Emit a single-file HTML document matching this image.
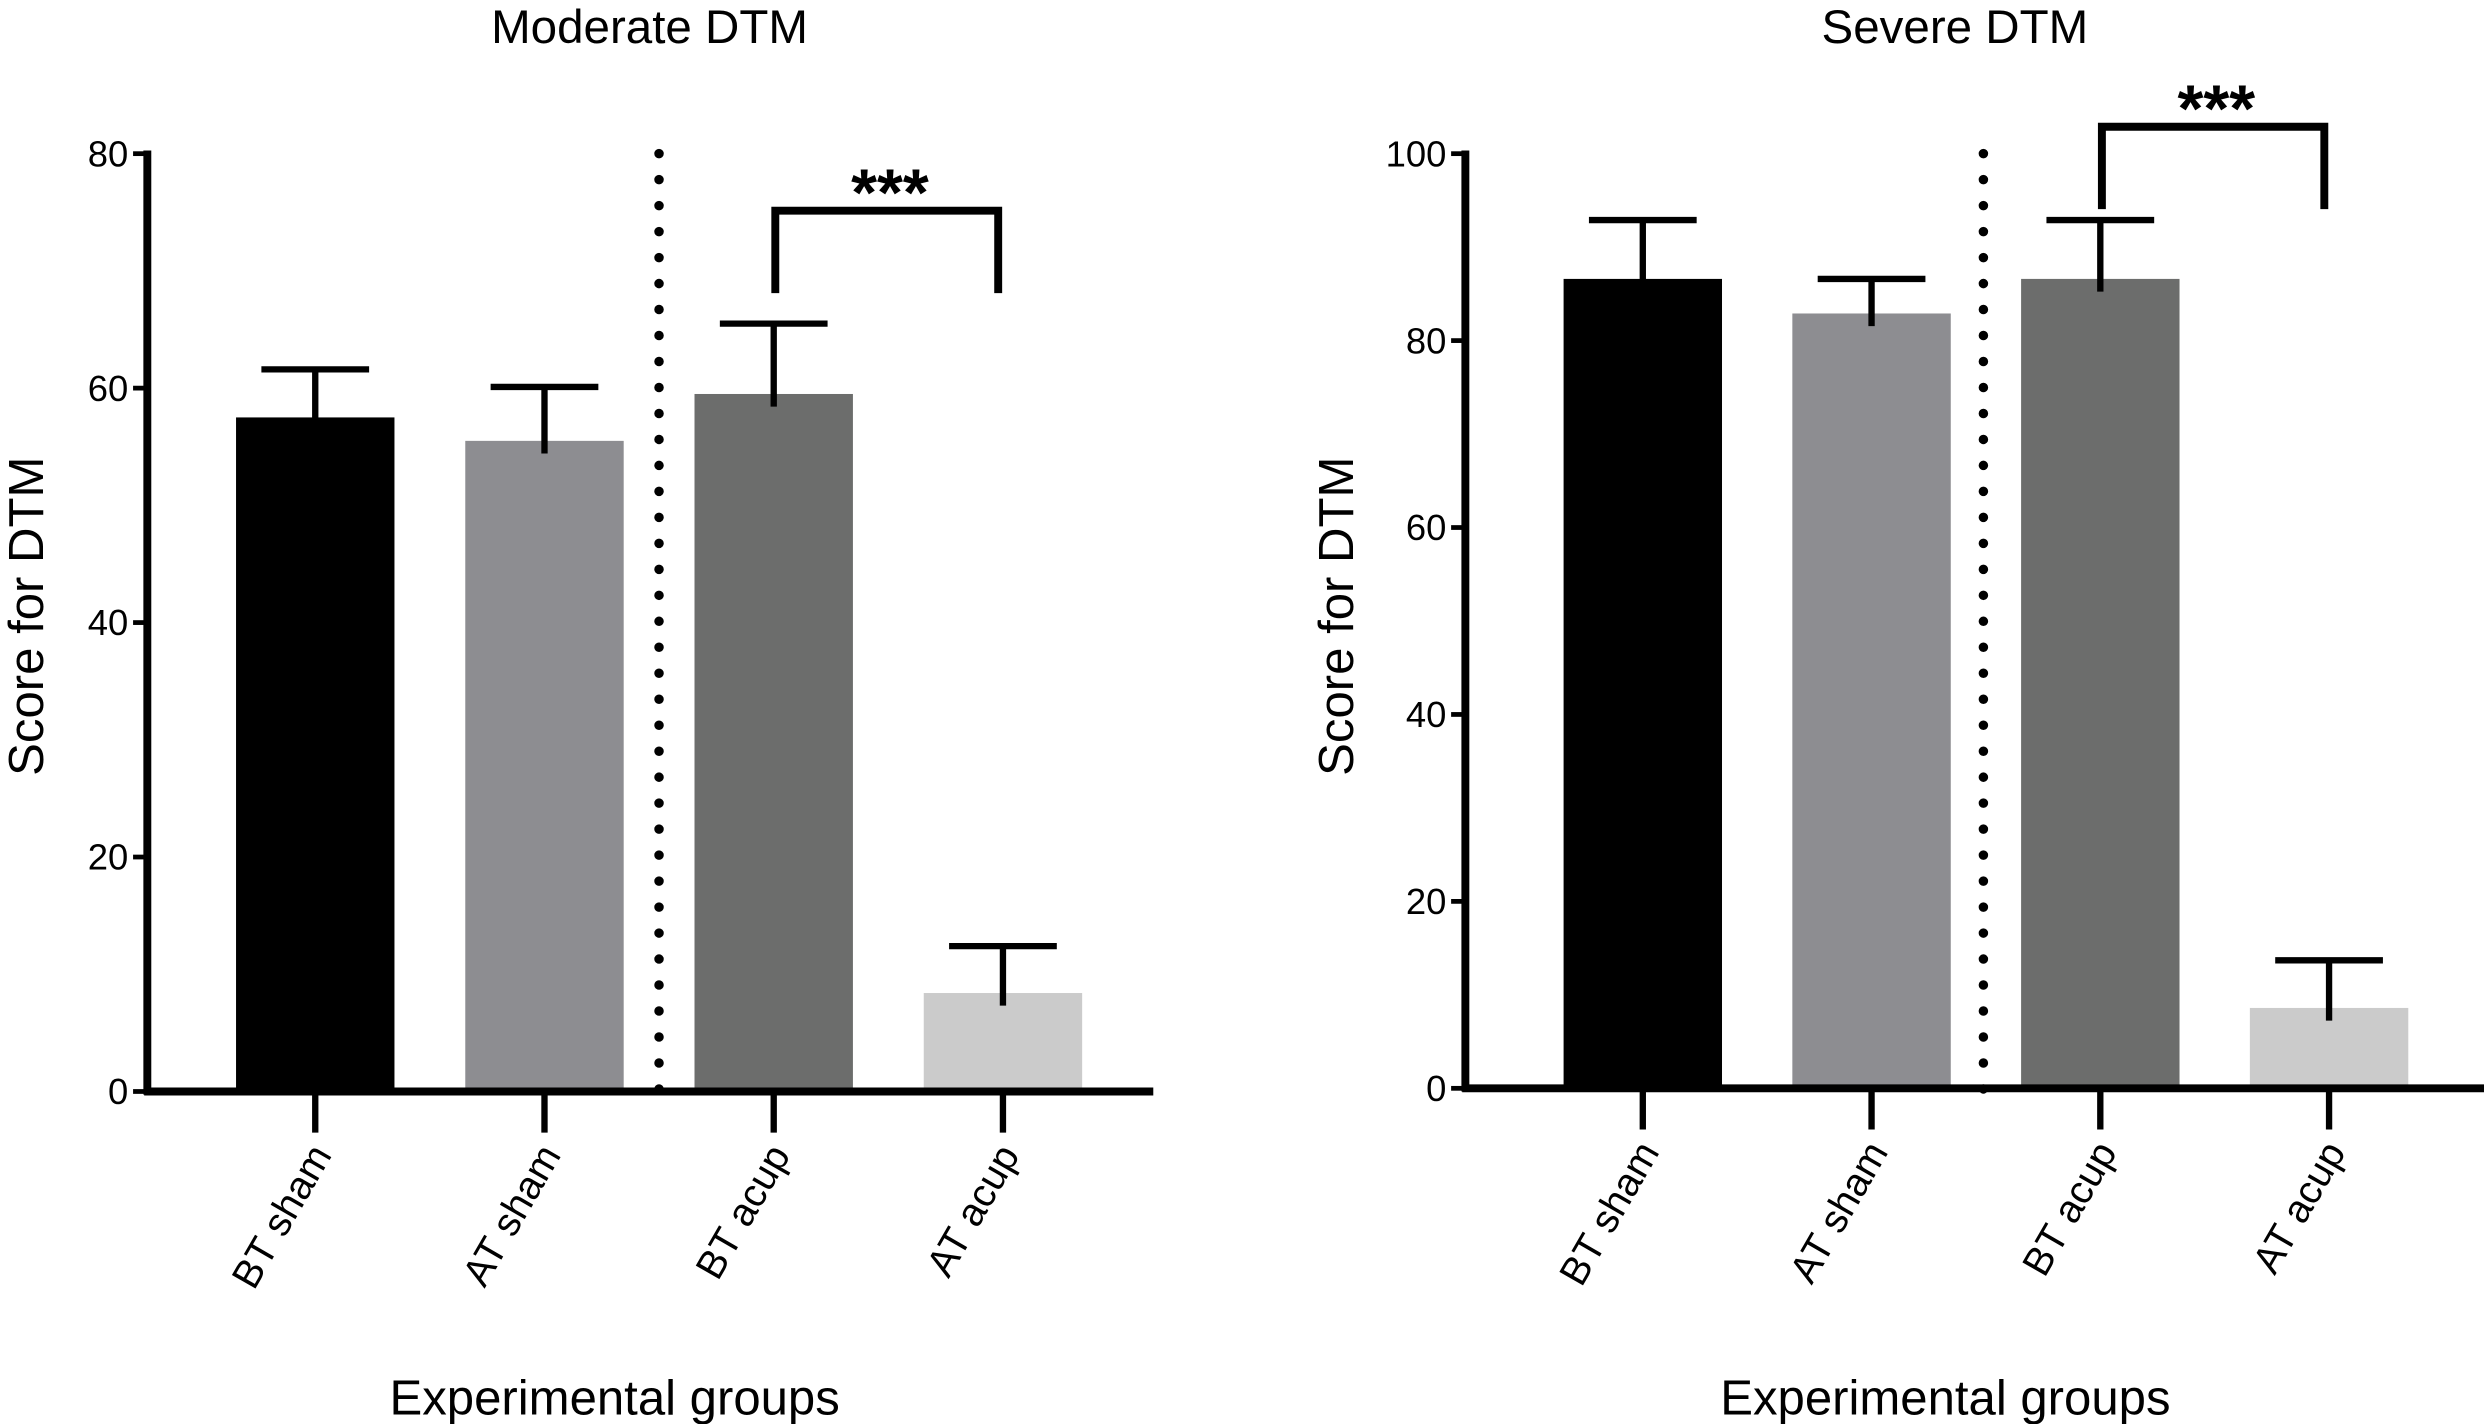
<!DOCTYPE html>
<html><head><meta charset="utf-8"><style>
html,body{margin:0;padding:0;background:#fff}
svg{display:block}
text{font-family:"Liberation Sans",sans-serif;fill:#000}
</style></head><body>
<svg id="fig" width="2484" height="1424" viewBox="0 0 1568 898.9" preserveAspectRatio="none" xmlns="http://www.w3.org/2000/svg"></svg>
<script>
const categories = ["BT sham","AT sham","BT acup","AT acup"];
const colors = ["#000000","#8d8d91","#6c6d6c","#cbcbcb"];
const moderateValues = [57.5, 55.5, 59.5, 8.4];
const moderateErrors = [4.1, 4.6, 6.0, 4.0];
const moderateTicks = [0,20,40,60,80];
const severeValues = [86.6, 82.9, 86.6, 8.6];
const severeErrors = [6.3, 3.7, 6.3, 5.1];
const severeTicks = [0,20,40,60,80,100];

const NS="http://www.w3.org/2000/svg";
const svg=document.getElementById('fig');
function mk(tag,attrs,parent){const e=document.createElementNS(NS,tag);for(const k in attrs)e.setAttribute(k,attrs[k]);(parent||svg).appendChild(e);return e;}

function panel(cfg){
  const g=mk('g',{});
  
  
  const y=v=>cfg.y0-(v/cfg.max)*(cfg.y0-cfg.yTop);
  const x=i=>cfg.x0c+i*cfg.step;
  const t=mk('text',{x:cfg.titleX,y:27,'font-size':30,'text-anchor':'middle'},g);t.textContent=cfg.title;
  
  
  cfg.values.forEach((v,i)=>{
    const r=mk('rect',{x:x(i)-50,y:y(v),width:100,height:cfg.y0-y(v),fill:colors[i]},g);
    
    
    const top=y(v+cfg.errors[i]);
    const eb=mk('path',{d:`M${x(i)} ${y(v)+8}V${top}M${x(i)-34} ${top}H${x(i)+34}`,stroke:'#000','stroke-width':4,fill:'none'},g);
    
    
  });
  const dl=mk('line',{x1:cfg.divX,y1:cfg.yTop,x2:cfg.divX,y2:cfg.y0+8,stroke:'#000','stroke-width':6,'stroke-dasharray':'0 16.4','stroke-linecap':'round'},g);
  
  
  const ya=mk('line',{x1:cfg.ax,y1:cfg.yTop-2,x2:cfg.ax,y2:cfg.y0+2,stroke:'#000','stroke-width':5},g);
  
  
  const xa=mk('line',{x1:cfg.ax-2,y1:cfg.y0,x2:cfg.xEnd,y2:cfg.y0,stroke:'#000','stroke-width':5},g);
  
  
  cfg.ticks.forEach(v=>{
    mk('line',{x1:cfg.ax-9,y1:y(v),x2:cfg.ax,y2:y(v),stroke:'#000','stroke-width':3},g);
    const tl=mk('text',{x:cfg.ax-12,y:y(v)+8,'font-size':23,'text-anchor':'end'},g);tl.textContent=v;
    
    
  });
  categories.forEach((c,i)=>{
    mk('line',{x1:x(i),y1:cfg.y0,x2:x(i),y2:cfg.y0+26,stroke:'#000','stroke-width':4},g);
    const tl=mk('text',{x:0,y:0,'font-size':25,'text-anchor':'end',transform:`translate(${x(i)+11},${cfg.y0+40}) rotate(-60)`},g);tl.textContent=c;
    
    
  });
  const yl=mk('text',{x:0,y:0,'font-size':31,'text-anchor':'middle',transform:`translate(${cfg.ylX},${389}) rotate(-90)`},g);yl.textContent='Score for DTM';
  
  
  const xl=mk('text',{x:cfg.xlX,y:893,'font-size':31,'text-anchor':'middle'},g);xl.textContent='Experimental groups';
  
  
  const bx1=x(2)+1,bx2=x(3)-3;
  const br=mk('path',{d:`M${bx1} ${cfg.brY+52}V${cfg.brY}H${bx2}V${cfg.brY+52}`,stroke:'#000','stroke-width':5,fill:'none'},g);
  
  
  const st=mk('text',{x:(bx1+bx2)/2+2,y:cfg.brY+3,'font-size':42,'font-weight':'bold','text-anchor':'middle'},g);st.textContent='***';
  
  
}
panel({name:'moderate-dtm-chart',title:'Moderate DTM',titleX:410,values:moderateValues,errors:moderateErrors,ticks:moderateTicks,max:80,
  ax:93,y0:689,yTop:97,xEnd:728,x0c:199,step:144.7,divX:416,ylX:27,xlX:388,brY:133});
panel({name:'severe-dtm-chart',title:'Severe DTM',titleX:1234,values:severeValues,errors:severeErrors,ticks:severeTicks,max:100,
  ax:925,y0:687,yTop:97,xEnd:1568,x0c:1037,step:144.4,divX:1252,ylX:854,xlX:1228,brY:80});
</script>
</body></html>
